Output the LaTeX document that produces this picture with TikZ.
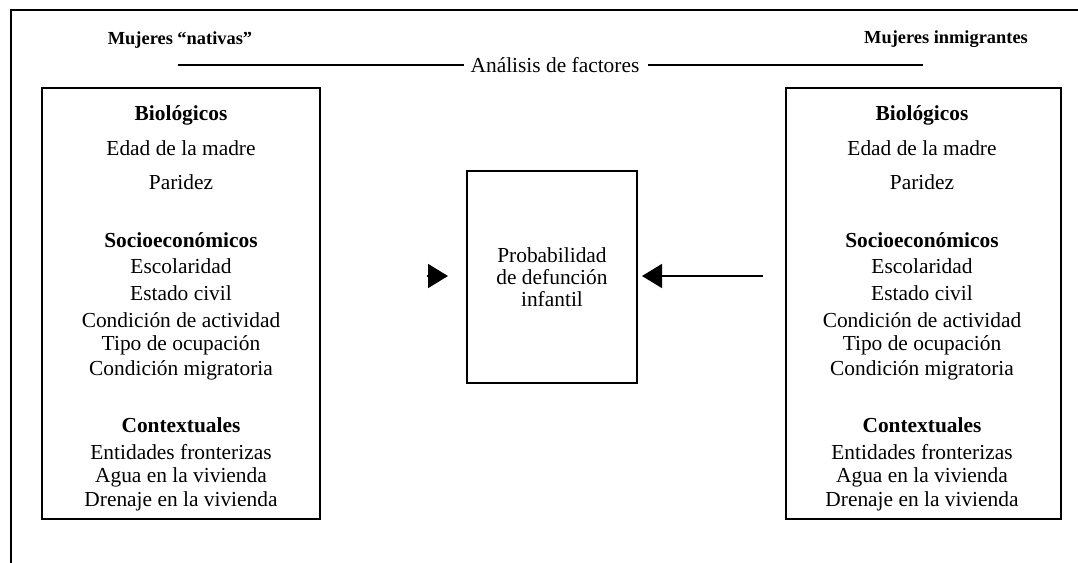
\documentclass[tikz,border=0pt]{standalone}
\usepackage{fontspec}
\setmainfont{Liberation Serif}
\usetikzlibrary{arrows.meta}
\begin{document}
\begin{tikzpicture}[x=0.5pt,y=-0.5pt,
  body/.style={font=\fontsize{10.7}{13}\selectfont, inner sep=0pt, anchor=center},
  head/.style={font=\fontsize{10.7}{13}\selectfont\bfseries, inner sep=0pt, anchor=center},
  title/.style={font=\fontsize{9.2}{11}\selectfont\bfseries, inner sep=0pt, anchor=center},
  frameline/.style={line width=0.8pt},
  boxline/.style={draw, line width=0.6pt},
  conn/.style={line width=0.8pt, -{Triangle[length=10pt,width=12pt]}}]
\useasboundingbox (0,0) rectangle (1078,563);
% outer frame (top and left only)
\coordinate (ftl) at (11,10);
\coordinate (ftr) at (1078,10);
\coordinate (fbl) at (11,563);
\draw[frameline] (ftr) -- (ftl) -- (fbl);
% titles
\node[title] (tn) at (180,40) {Mujeres “nativas”};
\node[title] (ti) at (946,39) {Mujeres inmigrantes};
\node[body] (af) at (555,65) {Análisis de factores};
\coordinate (la) at (178,65);
\coordinate (rb) at (923,65);
\draw[line width=0.7pt] (la) -- ([xshift=-3pt]af.west);
\draw[line width=0.7pt] ([xshift=4pt]af.east) -- (rb);
% boxes
\node[boxline, minimum width=139pt, minimum height=215.5pt, inner sep=0pt] (lbox) at (181,303.5) {};
\node[boxline, minimum width=137.5pt, minimum height=215.5pt, inner sep=0pt] (rbox) at (923.5,303.5) {};
\node[boxline, minimum width=85pt, minimum height=106pt, inner sep=0pt] (pbox) at (552,277) {};
% columns
\foreach \t/\y/\s [count=\i] in {Biológicos/115/head, Edad de la madre/148/body, Paridez/182/body,
  Socioeconómicos/240/head, Escolaridad/266/body, Estado civil/293/body, Condición de actividad/320/body,
  Tipo de ocupación/345/body, Condición migratoria/370/body, Contextuales/425/head,
  Entidades fronterizas/452/body, Agua en la vivienda/477/body, Drenaje en la vivienda/501/body}{
  \node[\s] (l\i) at (181,\y) {\t};
  \node[\s] (r\i) at (922,\y) {\t};
}
% center text
\node[body, align=center, font=\fontsize{10.7}{10.9}\selectfont] (ptext) at (552,277) {Probabilidad\\de defunción\\infantil};
% arrows
\coordinate (lh) at (427,276);
\coordinate (lt) at (448,276);
\draw[conn] (lh) -- (lt);
\coordinate (rs) at (763,276);
\coordinate (rt) at (642,276);
\draw[conn] (rs) -- (rt);
\end{tikzpicture}
\end{document}
